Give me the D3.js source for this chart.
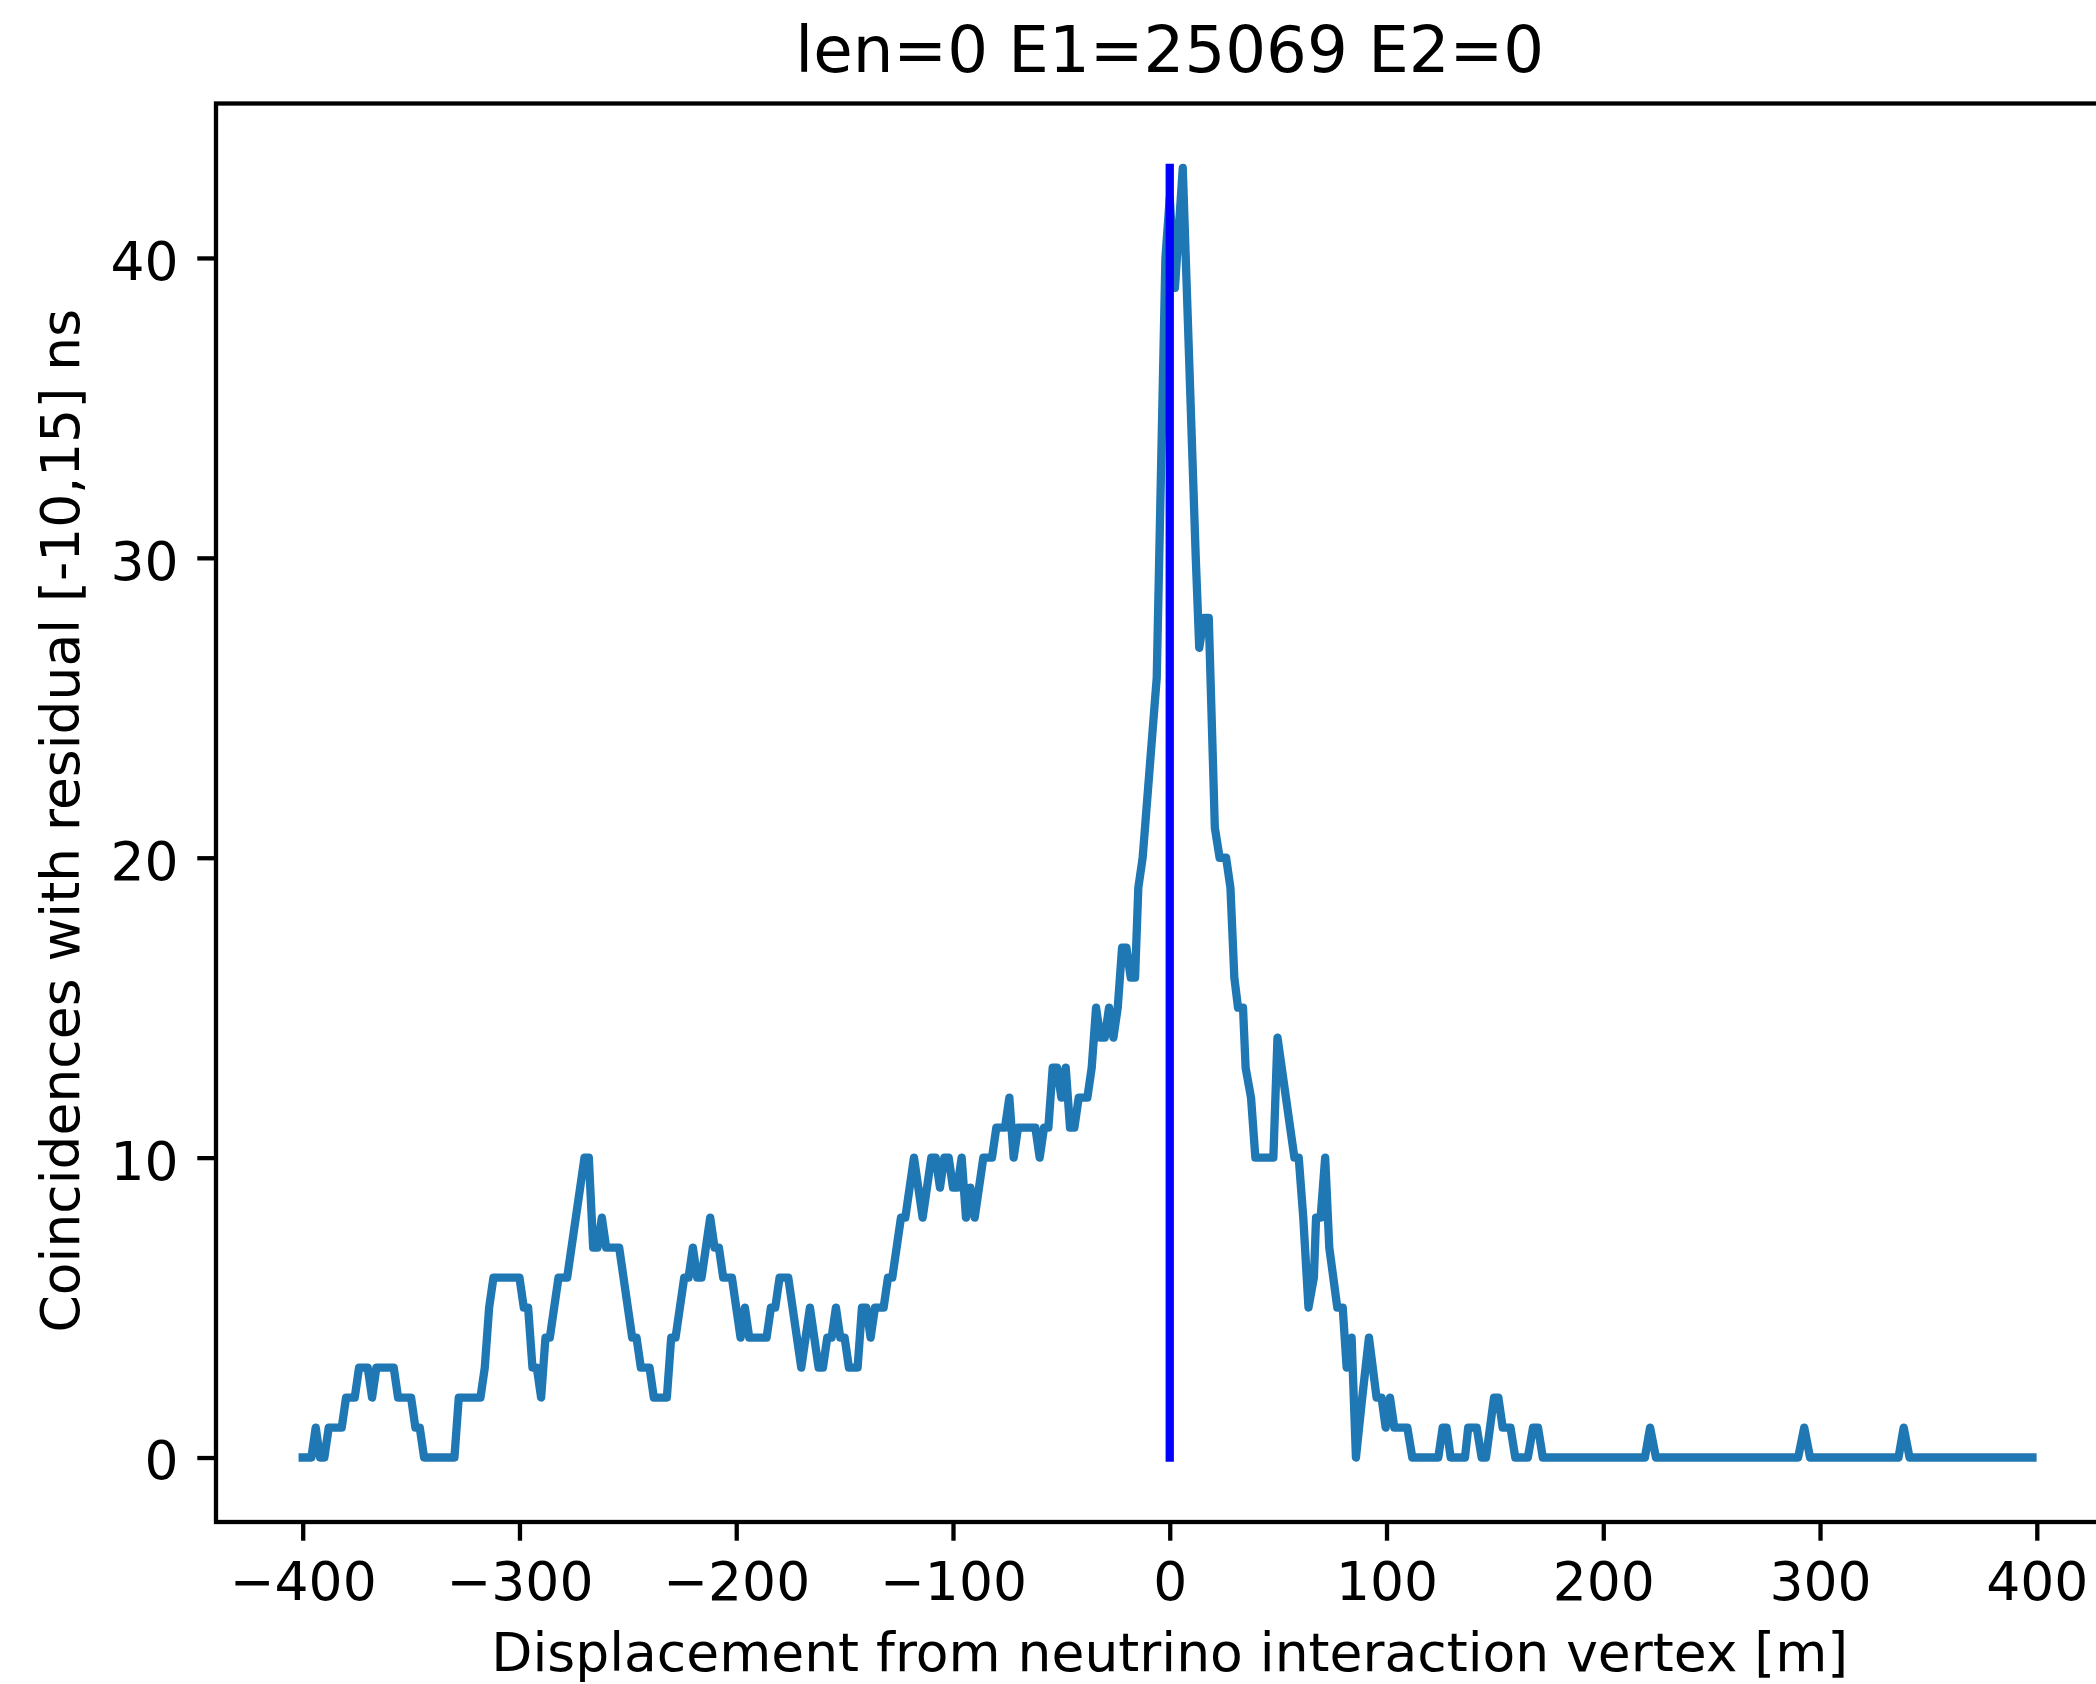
<!DOCTYPE html>
<html>
<head>
<meta charset="utf-8">
<script src="https://cdn.jsdelivr.net/npm/d3@7"></script>
<style>
  html, body { margin: 0; padding: 0; background: #ffffff; }
  svg { display: block; font-family: "DejaVu Sans", sans-serif; }
</style>
</head>
<body>
<svg id="chart" width="2096" height="1684"></svg>
<script>
// Displacement from the vertex (m) and coincidence counts along the scan
const displacement = [
  -400, -396, -394, -392, -390, -388, -382, -380, -376, -374, -370, -368, -366, -358, -356,
  -350, -348, -346, -344, -330, -328, -318, -316, -314, -312, -300, -298, -296, -294, -292,
  -290, -288, -286, -282, -278, -270, -268, -266, -264, -262, -260, -254, -248, -246, -244,
  -240, -238, -232, -230, -228, -224, -222, -220, -218, -216, -212, -210, -208, -206, -202,
  -198, -196, -194, -186, -184, -182, -180, -176, -170, -166, -162, -160, -158, -156, -154,
  -152, -150, -148, -144, -142, -140, -138, -136, -132, -130, -128, -124, -122, -118, -114,
  -110, -108, -106, -104, -102, -100, -98, -96, -94, -92, -90, -86, -82, -80, -76,
  -74, -72, -70, -62, -60, -58, -56, -54, -52, -50, -48, -46, -44, -42, -38,
  -36, -34, -32, -30, -28, -26, -24, -22, -20, -18, -16, -14.5, -12.5, -6, -2,
  0, 2.4, 6, 12, 13.6, 15.8, 18, 20.8, 23, 26, 28, 29.8, 31.5, 33.8, 35,
  37.5, 39.5, 47.8, 49.7, 57.5, 59.5, 61.6, 64, 66.5, 67.5, 69.6, 71.7, 73.6, 77.3, 79.8,
  81.6, 83.9, 85.9, 88.8, 91.9, 95.4, 97.7, 99.6, 101.6, 103.6, 109.6, 111.9, 123.9, 125.9, 127.7,
  129.6, 136.2, 137.7, 141.6, 143.9, 145.9, 149.6, 151.6, 153.6, 157.2, 159.4, 165.2, 167.6, 169.9, 172.1,
  219.2, 221.6, 224.3, 289.9, 292.7, 295.4, 336.2, 338.6, 341.3, 398
];
const coincidences = [
  0, 0, 1, 0, 0, 1, 1, 2, 2, 3, 3, 2, 3, 3, 2,
  2, 1, 1, 0, 0, 2, 2, 3, 5, 6, 6, 5, 5, 3, 3,
  2, 4, 4, 6, 6, 10, 10, 7, 7, 8, 7, 7, 4, 4, 3,
  3, 2, 2, 4, 4, 6, 6, 7, 6, 6, 8, 7, 7, 6, 6,
  4, 5, 4, 4, 5, 5, 6, 6, 3, 5, 3, 3, 4, 4, 5,
  4, 4, 3, 3, 5, 5, 4, 5, 5, 6, 6, 8, 8, 10, 8,
  10, 10, 9, 10, 10, 9, 9, 10, 8, 9, 8, 10, 10, 11, 11,
  12, 10, 11, 11, 10, 11, 11, 13, 13, 12, 13, 11, 11, 12, 12,
  13, 15, 14, 14, 15, 14, 15, 17, 17, 16, 16, 19, 20, 26, 40,
  42, 39, 43, 30, 27, 28, 28, 21, 20, 20, 19, 16, 15, 15, 13,
  12, 10, 10, 14, 10, 10, 8, 5, 6, 8, 8, 10, 7, 5, 5,
  3, 4, 0, 2, 4, 2, 2, 1, 2, 1, 1, 0, 0, 1, 1,
  0, 0, 1, 1, 0, 0, 2, 2, 1, 1, 0, 0, 1, 1, 0,
  0, 1, 0, 0, 1, 0, 0, 1, 0, 0
];

// Vertex marker: vertical line at zero displacement up to the peak count
const vertexX = 0;
const vertexTop = 43;

const xTicks = [-400, -300, -200, -100, 0, 100, 200, 300, 400];
const yTicks = [0, 10, 20, 30, 40];

const titleText = "len=0 E1=25069 E2=0";
const xLabelText = "Displacement from neutrino interaction vertex [m]";
const yLabelText = "Coincidences with residual [-10,15] ns";

// Plot frame (pixels)
const plot = { left: 216, top: 103.5, right: 2123.5, bottom: 1522 };
const fontSize = 53.5;
const titleSize = 64.2;
const lw = 8.3;
const tickLen = 18.7;
const tickPad = 18.7;
const frameWidth = 4.3;

const svg = d3.select("#chart");

const x = d3.scaleLinear().domain([-440, 440]).range([plot.left, plot.right]);
const y = d3.scaleLinear().domain([-2.15, 45.15]).range([plot.bottom, plot.top]);

const points = displacement.map((d, i) => [d, coincidences[i]]);

// Count curve
svg.append("path")
  .datum(points)
  .attr("fill", "none")
  .attr("stroke", "#1f77b4")
  .attr("stroke-width", lw)
  .attr("stroke-linejoin", "round")
  .attr("stroke-linecap", "square")
  .attr("d", d3.line().x(d => x(d[0])).y(d => y(d[1])));

// Vertex line
svg.append("line")
  .attr("x1", x(vertexX)).attr("x2", x(vertexX))
  .attr("y1", y(0)).attr("y2", y(vertexTop))
  .attr("stroke", "#0000ff")
  .attr("stroke-width", lw)
  .attr("stroke-linecap", "square");

// Axes frame
svg.append("rect")
  .attr("x", plot.left).attr("y", plot.top)
  .attr("width", plot.right - plot.left)
  .attr("height", plot.bottom - plot.top)
  .attr("fill", "none")
  .attr("stroke", "#000")
  .attr("stroke-width", frameWidth);

const fmt = d => d3.format("d")(d);

// X axis
const gx = svg.append("g")
  .attr("transform", `translate(0,${plot.bottom})`)
  .call(d3.axisBottom(x).tickValues(xTicks).tickFormat(fmt).tickSize(tickLen).tickSizeOuter(0));
gx.select(".domain").remove();
gx.selectAll(".tick line").attr("stroke", "#000").attr("stroke-width", frameWidth);
gx.selectAll(".tick text")
  .attr("y", 78).attr("dy", null)
  .attr("fill", "#000")
  .attr("font-size", fontSize)
  .attr("font-family", "DejaVu Sans");

// Y axis
const gy = svg.append("g")
  .attr("transform", `translate(${plot.left},0)`)
  .call(d3.axisLeft(y).tickValues(yTicks).tickFormat(fmt).tickSize(tickLen).tickSizeOuter(0));
gy.select(".domain").remove();
gy.selectAll(".tick line").attr("stroke", "#000").attr("stroke-width", frameWidth);
gy.selectAll(".tick text")
  .attr("x", -(tickLen + tickPad))
  .attr("dy", "0.40em")
  .attr("fill", "#000")
  .attr("font-size", fontSize)
  .attr("font-family", "DejaVu Sans");

const cx = (plot.left + plot.right) / 2;
const cy = (plot.top + plot.bottom) / 2;

// Title
svg.append("text")
  .attr("x", cx).attr("y", 72)
  .attr("text-anchor", "middle")
  .attr("font-size", titleSize)
  .attr("fill", "#000")
  .text(titleText);

// X label
svg.append("text")
  .attr("x", cx).attr("y", 1671)
  .attr("text-anchor", "middle")
  .attr("font-size", fontSize)
  .attr("fill", "#000")
  .text(xLabelText);

// Y label
svg.append("text")
  .attr("transform", `translate(79,${cy + 8}) rotate(-90)`)
  .attr("text-anchor", "middle")
  .attr("font-size", fontSize)
  .attr("fill", "#000")
  .text(yLabelText);
</script>
</body>
</html>
